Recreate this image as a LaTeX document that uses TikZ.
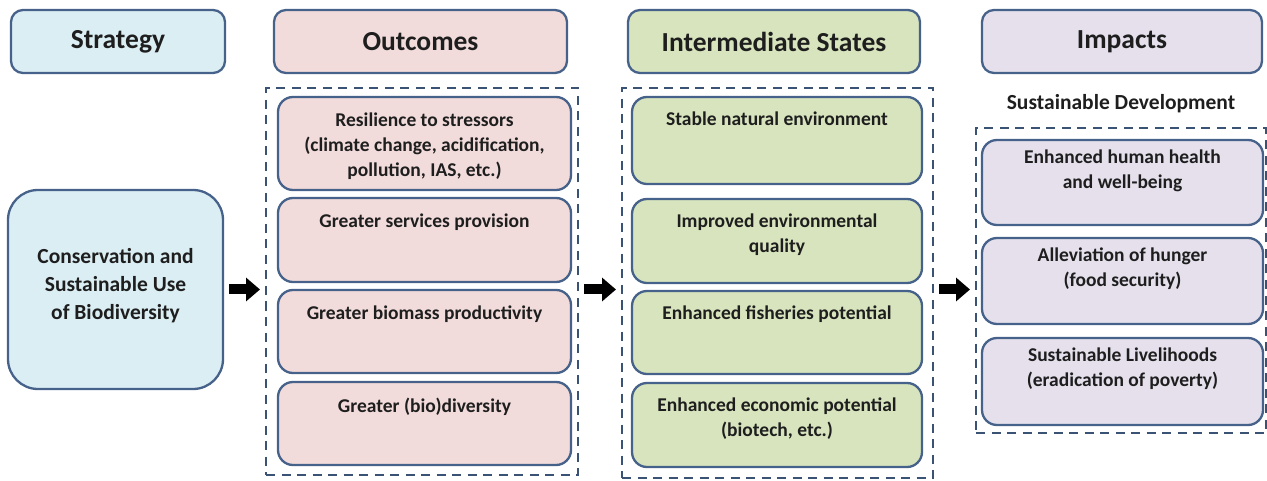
\documentclass[tikz,border=0pt]{standalone}
\usepackage{fontspec}
\setmainfont{Carlito}
\usetikzlibrary{positioning, arrows.meta}

\definecolor{edge}{HTML}{46628A}
\definecolor{frame}{HTML}{3A5273}
\definecolor{stratfill}{HTML}{DBEEF4}
\definecolor{outfill}{HTML}{F2DCDB}
\definecolor{midfill}{HTML}{D7E4BD}
\definecolor{impfill}{HTML}{E5E0EC}
\definecolor{ink}{HTML}{1E1E1E}

\begin{document}
\begin{tikzpicture}[x=1pt, y=-1pt, line width=2.3pt,
  head/.style={draw=edge, rounded corners=12pt, minimum height=63pt,
    inner sep=0pt, text=ink, font=\bfseries\fontsize{27.5}{32}\selectfont},
  card/.style={draw=edge, rounded corners=15pt, inner sep=0pt},
  grp/.style={draw=frame, line width=2pt, dash pattern=on 9pt off 6.5pt, inner sep=0pt},
  txt/.style={inner sep=0pt, align=center, text=ink,
    font=\bfseries\fontsize{19.5}{25}\selectfont},
  flow/.style={line width=10pt, -{Triangle[length=14pt, width=23pt]},
    shorten <=5pt, shorten >=5pt}]
  \useasboundingbox (0,0) rectangle (1267,481);

  % column heads
  \node[head, fill=stratfill, minimum width=214pt] (strath) at (118,41.5) {Strategy};
  \node[head, fill=outfill, minimum width=293pt] (outh) at (420.5,41.5) {Outcomes};
  \node[head, fill=midfill, minimum width=292pt] (midh) at (774,41.5) {Intermediate States};
  \node[head, fill=impfill, minimum width=280pt] (imph) at (1122,41.5) {Impacts};

  % strategy
  \node[card, fill=stratfill, rounded corners=30pt, minimum width=215pt,
    minimum height=199pt] (strat) at (115.5,289.5) {};
  \node[txt, font=\bfseries\fontsize{21.5}{28}\selectfont, below=58pt of strat.north]
    (stratt) {Conservation and\\Sustainable Use\\of Biodiversity};

  % dashed groups
  \node[grp, minimum width=312pt, minimum height=387pt] (grp1) at (422,281.5) {};
  \node[grp, minimum width=311pt, minimum height=390pt] (grp2) at (777.5,283) {};
  \node[grp, minimum width=290pt, minimum height=305pt] (grp3) at (1121,280.5) {};

  % outcomes
  \node[card, fill=outfill, minimum width=293pt, minimum height=93pt] (out1) at (424.5,143.5) {};
  \node[card, fill=outfill, minimum width=293pt, minimum height=84pt] (out2) at (424.5,240) {};
  \node[card, fill=outfill, minimum width=293pt, minimum height=83pt] (out3) at (424.5,331.5) {};
  \node[card, fill=outfill, minimum width=293pt, minimum height=83pt] (out4) at (424.5,423.5) {};
  \node[txt, below=16pt of out1.north] (out1t)
    {Resilience to stressors\\(climate change, acidification,\\pollution,  IAS, etc.)};
  \node[txt, below=16pt of out2.north] (out2t) {Greater services provision};
  \node[txt, below=16pt of out3.north] (out3t) {Greater biomass productivity};
  \node[txt, below=16pt of out4.north] (out4t) {Greater (bio)diversity};

  % intermediate states
  \node[card, fill=midfill, minimum width=290pt, minimum height=87pt] (mid1) at (777,140.5) {};
  \node[card, fill=midfill, minimum width=290pt, minimum height=84pt] (mid2) at (777,241) {};
  \node[card, fill=midfill, minimum width=290pt, minimum height=83pt] (mid3) at (777,332.5) {};
  \node[card, fill=midfill, minimum width=290pt, minimum height=84pt] (mid4) at (777,425) {};
  \node[txt, below=15pt of mid1.north] (mid1t) {Stable natural environment};
  \node[txt, below=15pt of mid2.north] (mid2t) {Improved environmental\\quality};
  \node[txt, below=15pt of mid3.north] (mid3t) {Enhanced fisheries potential};
  \node[txt, below=15pt of mid4.north] (mid4t) {Enhanced economic potential\\(biotech, etc.)};

  % impacts
  \node[txt, font=\bfseries\fontsize{21.5}{26}\selectfont] (sdev) at (1121,104)
    {Sustainable Development};
  \node[card, fill=impfill, minimum width=281pt, minimum height=85pt] (imp1) at (1122.5,182.5) {};
  \node[card, fill=impfill, minimum width=281pt, minimum height=86pt] (imp2) at (1122.5,281) {};
  \node[card, fill=impfill, minimum width=281pt, minimum height=87pt] (imp3) at (1122.5,381.5) {};
  \node[txt, below=10pt of imp1.north] (imp1t) {Enhanced human health\\and well-being};
  \node[txt, below=10pt of imp2.north] (imp2t) {Alleviation of hunger\\(food security)};
  \node[txt, below=10pt of imp3.north] (imp3t) {Sustainable Livelihoods\\(eradication of poverty)};

  % block arrows between the columns
  \draw[flow] (strat.east) -- (strat.east -| grp1.west);
  \draw[flow] (grp1.east |- strat.east) -- (grp2.west |- strat.east);
  \draw[flow] (grp2.east |- strat.east) -- (grp3.west |- strat.east);
\end{tikzpicture}
\end{document}
